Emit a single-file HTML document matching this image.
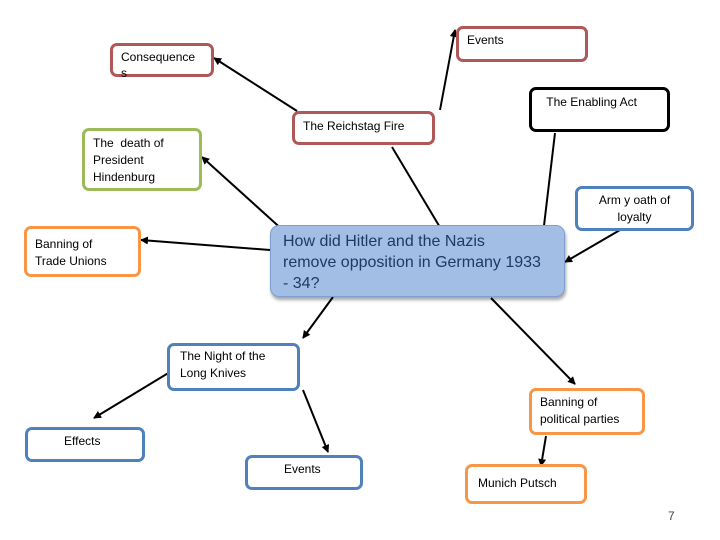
<!DOCTYPE html>
<html><head><meta charset="utf-8"><style>
body{margin:0;width:720px;height:540px;background:#fff;position:relative;overflow:hidden;font-family:"Liberation Sans",sans-serif;}
.b{position:absolute;box-sizing:border-box;border:3px solid;border-radius:7px;background:#fff;font-size:12px;line-height:17px;padding:4px 8px;color:#000;}
.r{border-color:#b05757}.g{border-color:#9bbb59}.bl{border-color:#4f81bd}.o{border-color:#f79646}.k{border-color:#000}
</style></head><body>
<svg width="720" height="540" style="position:absolute;left:0;top:0">
<defs><marker id="a" markerWidth="8" markerHeight="8" refX="7" refY="4" orient="auto" markerUnits="userSpaceOnUse"><path d="M0,0L8,4L0,8z" fill="#000"/></marker></defs>
<g stroke="#000" stroke-width="2" marker-end="url(#a)">
<line x1="297" y1="111" x2="214" y2="58"/>
<line x1="440" y1="110" x2="455" y2="30"/>
<line x1="285" y1="232" x2="202" y2="157"/>
<line x1="392" y1="147" x2="444" y2="234"/>
<line x1="555" y1="133" x2="543" y2="234"/>
<line x1="620" y1="230" x2="565" y2="262"/>
<line x1="270" y1="250" x2="141" y2="240"/>
<line x1="333" y1="297" x2="303" y2="338"/>
<line x1="491" y1="298" x2="575" y2="384"/>
<line x1="170" y1="372" x2="94" y2="418"/>
<line x1="303" y1="390" x2="328" y2="452"/>
<line x1="546" y1="436" x2="541" y2="466"/>
</g></svg>
<div class="b r" style="left:110px;top:43px;width:104px;height:34px;line-height:16px;padding:3px 8px">Consequence<br>s</div>
<div class="b r" style="left:456px;top:26px;width:132px;height:36px;padding:3px 8px">Events</div>
<div class="b k" style="left:529px;top:87px;width:141px;height:45px;text-align:right;padding:4px 30px 4px 8px">The Enabling Act</div>
<div class="b r" style="left:292px;top:111px;width:143px;height:34px;padding:4px 8px">The Reichstag Fire</div>
<div class="b g" style="left:82px;top:128px;width:120px;height:63px;padding:4px 8px">The &nbsp;death of<br>President<br>Hindenburg</div>
<div class="b bl" style="left:575px;top:186px;width:119px;height:45px;text-align:center;padding:3px 6px">Arm y oath of<br>loyalty</div>
<div class="b o" style="left:24px;top:226px;width:117px;height:51px;padding:7px 8px">Banning of<br>Trade Unions</div>
<div style="position:absolute;left:270px;top:225px;width:295px;height:72px;box-sizing:border-box;background:#a3bee4;border:1px solid #7f9fd0;border-radius:9px;box-shadow:1px 3px 3px rgba(0,0,0,0.35);color:#1f3864;font-size:16px;line-height:21px;padding:5px 12px">How did Hitler and the Nazis<br>remove opposition in Germany 1933<br>- 34?</div>
<div class="b bl" style="left:167px;top:343px;width:133px;height:48px;padding:2px 10px">The Night of the<br>Long Knives</div>
<div class="b o" style="left:529px;top:388px;width:116px;height:47px;padding:3px 8px">Banning of<br>political parties</div>
<div class="b bl" style="left:25px;top:427px;width:120px;height:35px;padding:3px 36px">Effects</div>
<div class="b bl" style="left:245px;top:455px;width:118px;height:35px;padding:3px 36px">Events</div>
<div class="b o" style="left:465px;top:464px;width:122px;height:40px;padding:8px 10px">Munich Putsch</div>
<div style="position:absolute;left:668px;top:509px;font-size:12px;color:#444">7</div>
</body></html>
